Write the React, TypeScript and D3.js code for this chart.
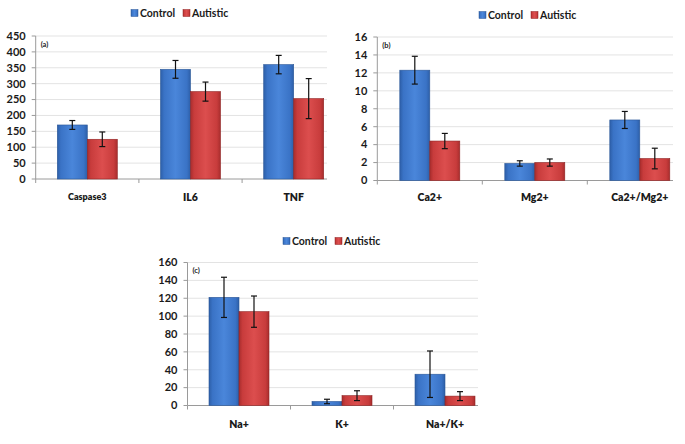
import React from "react";
import * as d3 from "d3";

const seriesNames = ["Control", "Autistic"];

const panelALabels = ["Caspase3", "IL6", "TNF"];
const panelAControl = [170, 345, 360];
const panelAControlErr = [14, 28, 29];
const panelAAutistic = [125, 275, 253];
const panelAAutisticErr = [23, 30, 63];
const panelATicks = [0, 50, 100, 150, 200, 250, 300, 350, 400, 450];

const panelBLabels = ["Ca2+", "Mg2+", "Ca2+/Mg2+"];
const panelBControl = [12.3, 1.9, 6.75];
const panelBControlErr = [1.55, 0.3, 0.95];
const panelBAutistic = [4.4, 2.0, 2.45];
const panelBAutisticErr = [0.85, 0.4, 1.15];
const panelBTicks = [0, 2, 4, 6, 8, 10, 12, 14, 16];

const panelCLabels = ["Na+", "K+", "Na+/K+"];
const panelCControl = [121, 4.5, 35];
const panelCControlErr = [22.5, 2.5, 26];
const panelCAutistic = [105, 11, 10.5];
const panelCAutisticErr = [17.5, 5.5, 5];
const panelCTicks = [0, 20, 40, 60, 80, 100, 120, 140, 160];

const FONT = "Lato, 'Open Sans', sans-serif";

type PanelProps = {
  tag: string;
  labels: string[];
  control: number[];
  controlErr: number[];
  autistic: number[];
  autisticErr: number[];
  ticks: number[];
  x0: number;
  step: number;
  gridRight: number;
  yBottom: number;
  yTop: number;
  legendX: number;
  legendY: number;
  labelY: number;
  labelSizes: number[];
};

function Panel(p: PanelProps) {
  const maxV = p.ticks[p.ticks.length - 1];
  const y = d3.scaleLinear().domain([0, maxV]).range([p.yBottom, p.yTop]);
  const x = d3
    .scaleBand<string>()
    .domain(p.labels)
    .range([p.x0, p.x0 + p.step * p.labels.length])
    .padding(0);
  const inner = d3.scaleBand<string>().domain(seriesNames).range([-30, 30]).padding(0);
  const values = [p.control, p.autistic];
  const errs = [p.controlErr, p.autisticErr];
  const fills = ["url(#gradBlue)", "url(#gradRed)"];
  const strokes = ["#2b5797", "#8f2323"];
  return (
    <g>
      {p.ticks.slice(1).map((t) => (
        <line key={"g" + t} x1={p.x0} x2={p.gridRight} y1={y(t)} y2={y(t)} stroke="#e3e3e3" strokeWidth={1} />
      ))}
      <line x1={p.x0} x2={p.x0} y1={y(0)} y2={y(maxV)} stroke="#9a9a9a" strokeWidth={1} />
      {p.ticks.map((t) => (
        <g key={"t" + t}>
          <line x1={p.x0 - 4} x2={p.x0} y1={y(t)} y2={y(t)} stroke="#9a9a9a" />
          <text x={p.x0 - 10} y={y(t)} dy="0.35em" textAnchor="end" fontSize={11} fontWeight="bold" fill="#1a1a1a" fontFamily={FONT}>
            {t}
          </text>
        </g>
      ))}
      <line x1={p.x0} x2={p.gridRight} y1={y(0)} y2={y(0)} stroke="#9a9a9a" strokeWidth={1} />
      {p.labels.map((c) => (
        <line key={"xt" + c} x1={x(c) as number} x2={x(c) as number} y1={y(0)} y2={y(0) + 4} stroke="#9a9a9a" />
      ))}
      {p.labels.map((c, i) => {
        const cx = (x(c) as number) + x.bandwidth() / 2;
        return (
          <g key={"b" + c}>
            {seriesNames.map((s, si) => {
              const bx = cx + (inner(s) as number);
              const v = values[si][i];
              const e = errs[si][i];
              const mid = bx + inner.bandwidth() / 2;
              const lo = y(Math.max(v - e, 0));
              const hi = y(v + e);
              return (
                <g key={s}>
                  <rect x={bx} y={y(v)} width={inner.bandwidth()} height={y(0) - y(v)} fill={fills[si]} stroke={strokes[si]} strokeWidth={0.6} />
                  <line x1={mid} x2={mid} y1={hi} y2={lo} stroke="#111" strokeWidth={1.2} />
                  <line x1={mid - 3} x2={mid + 3} y1={hi} y2={hi} stroke="#111" strokeWidth={1.2} />
                  <line x1={mid - 3} x2={mid + 3} y1={lo} y2={lo} stroke="#111" strokeWidth={1.2} />
                </g>
              );
            })}
            <text x={cx} y={p.labelY} dy="0.35em" textAnchor="middle" fontSize={p.labelSizes[i]} fontWeight={800} fill="#1a1a1a" fontFamily={FONT}>
              {c}
            </text>
          </g>
        );
      })}
      <text x={p.x0 + 5} y={y(maxV) + 8} dy="0.35em" fontSize={7.5} fontWeight="bold" fill="#1a1a1a" fontFamily={FONT}>
        {p.tag}
      </text>
      <g transform={`translate(${p.legendX},${p.legendY})`}>
        <rect x={0} y={-3.5} width={7} height={7} fill="url(#gradBlue)" stroke="#2b5797" strokeWidth={0.5} />
        <text x={9} y={0} dy="0.35em" fontSize={10.5} fontWeight="bold" fill="#1a1a1a" fontFamily={FONT}>
          {seriesNames[0]}
        </text>
        <rect x={52} y={-3.5} width={7} height={7} fill="url(#gradRed)" stroke="#8f2323" strokeWidth={0.5} />
        <text x={61} y={0} dy="0.35em" fontSize={10.5} fontWeight="bold" fill="#1a1a1a" fontFamily={FONT}>
          {seriesNames[1]}
        </text>
      </g>
    </g>
  );
}

export default function App() {
  return (
    <div style={{ position: "absolute", left: 0, top: 0 }}>
      <svg width={685} height={444} style={{ display: "block", background: "#fff" }}>
        <defs>
          <linearGradient id="gradBlue" x1="0" x2="1" y1="0" y2="0">
            <stop offset="0%" stopColor="#2d5fa8" />
            <stop offset="12%" stopColor="#3a73c6" />
            <stop offset="50%" stopColor="#4a86da" />
            <stop offset="88%" stopColor="#3a73c6" />
            <stop offset="100%" stopColor="#2d5fa8" />
          </linearGradient>
          <linearGradient id="gradRed" x1="0" x2="1" y1="0" y2="0">
            <stop offset="0%" stopColor="#a82d2d" />
            <stop offset="12%" stopColor="#c83c3c" />
            <stop offset="50%" stopColor="#dc4e4e" />
            <stop offset="88%" stopColor="#c83c3c" />
            <stop offset="100%" stopColor="#a82d2d" />
          </linearGradient>
        </defs>
        <Panel
          tag="(a)"
          labels={panelALabels}
          control={panelAControl}
          controlErr={panelAControlErr}
          autistic={panelAAutistic}
          autisticErr={panelAAutisticErr}
          ticks={panelATicks}
          x0={35.7}
          step={103.2}
          gridRight={327}
          yBottom={179}
          yTop={36}
          legendX={131}
          legendY={13}
          labelY={197}
          labelSizes={[9, 10.5, 10.5]}
        />
        <Panel
          tag="(b)"
          labels={panelBLabels}
          control={panelBControl}
          controlErr={panelBControlErr}
          autistic={panelBAutistic}
          autisticErr={panelBAutisticErr}
          ticks={panelBTicks}
          x0={377.3}
          step={105}
          gridRight={673}
          yBottom={180.5}
          yTop={37}
          legendX={479}
          legendY={15}
          labelY={197}
          labelSizes={[10.5, 10.5, 10.5]}
        />
        <Panel
          tag="(c)"
          labels={panelCLabels}
          control={panelCControl}
          controlErr={panelCControlErr}
          autistic={panelCAutistic}
          autisticErr={panelCAutisticErr}
          ticks={panelCTicks}
          x0={187.5}
          step={103}
          gridRight={478}
          yBottom={405.5}
          yTop={262.5}
          legendX={283}
          legendY={241}
          labelY={424}
          labelSizes={[10.5, 10.5, 10.5]}
        />
      </svg>
    </div>
  );
}
